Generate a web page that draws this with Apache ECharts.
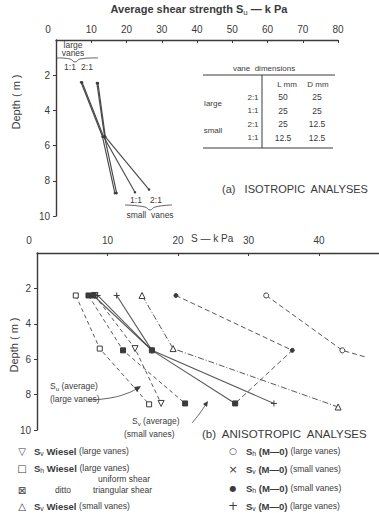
<!DOCTYPE html>
<html>
<head>
<meta charset="utf-8">
<script src="https://cdn.jsdelivr.net/npm/echarts@6/dist/echarts.min.js"></script>
<style>
  html, body { margin: 0; background: #fff; }
  #chart { width: 379px; height: 513px; }
</style>
</head>
<body>
<div id="chart"></div>
<script>
// ---- data: [S (kPa), depth (m)] ----
const depthTicks = [2, 4, 6, 8, 10];
const isoTicks = [0, 10, 20, 30, 40, 50, 60, 70, 80];
const anisoTicks = [0, 10, 20, 30, 40];

// (a) isotropic analyses
const isoLarge11 = [[7.1, 2.4], [13.2, 5.5], [16.7, 8.7]];
const isoLarge21 = [[11.6, 2.45], [13.8, 5.5], [17.2, 8.7]];
const isoSmall11 = [[7.4, 2.4], [13.5, 5.5], [22.4, 8.65]];
const isoSmall21 = [[11.9, 2.45], [14.0, 5.5], [26.4, 8.5]];

// (b) anisotropic analyses
const svWieselLarge = [[8.2, 2.4], [13.9, 5.4], [17.6, 8.5]];
const shWieselUniform = [[5.5, 2.4], [8.9, 5.4], [15.9, 8.55]];
const shWieselTriangular = [[7.3, 2.4], [12.2, 5.5], [21.0, 8.5]];
const svWieselSmall = [[14.9, 2.4], [19.3, 5.4], [42.7, 8.7]];
const shMoLarge = [[32.5, 2.4], [43.3, 5.5], [46.8, 5.9]];
const shMoSmall = [[19.7, 2.4], [36.2, 5.5], [28.1, 8.5]];
const svMoLarge = [[11.3, 2.4], [16.3, 5.5]];
const suAvgLarge = [[8.0, 2.4], [16.3, 5.5], [28.1, 8.5]];
const suAvgSmall = [[8.6, 2.4], [16.3, 5.5], [33.6, 8.5]];

// vane dimensions table
const tableRows = [
  ["2:1", "50", "25"],
  ["1:1", "25", "25"],
  ["2:1", "25", "12.5"],
  ["1:1", "12.5", "12.5"],
];

const ink = "#3b3b3b";
const font = "Liberation Sans";
const plusPath = "path://M5,0L5,10M0,5L10,5";

let myChart = echarts.init(document.getElementById("chart"), null, { renderer: "svg" });

// text helper, sub-scripts through rich text
const subRich = (size) => ({
  sub: { fontSize: size * 0.72, fontFamily: font, fill: ink, padding: [size * 0.55, 0, 0, 0] },
  b: { fontSize: size, fontFamily: font, fill: ink, fontWeight: "bold" },
  n: { fontSize: size * 0.9, fontFamily: font, fill: ink },
});
const txt = (x, y, text, size, extra, rotation) => ({
  type: "text",
  x: x,
  y: y,
  rotation: rotation || 0,
  silent: true,
  style: Object.assign(
    {
      text: text,
      fontSize: size,
      fontFamily: font,
      fill: ink,
      align: "left",
      verticalAlign: "middle",
      rich: subRich(size),
    },
    extra || {}
  ),
});
const seg = (x1, y1, x2, y2, w) => ({
  type: "line",
  silent: true,
  shape: { x1, y1, x2, y2 },
  style: { stroke: ink, lineWidth: w || 1 },
});
const curve = (points, w) => ({
  type: "polyline",
  silent: true,
  shape: { points: points, smooth: 0.5 },
  style: { stroke: ink, lineWidth: w || 0.8, fill: null },
});
const head = (points) => ({
  type: "polygon",
  silent: true,
  shape: { points: points },
  style: { fill: ink },
});

const axisX = (gridIndex, max, ticks, margin) => ({
  type: "value",
  gridIndex: gridIndex,
  position: "top",
  min: 0,
  max: max,
  splitLine: { show: false },
  axisLine: { show: true, lineStyle: { color: ink, width: 1.4 } },
  axisTick: { show: true, inside: true, length: 3, customValues: ticks, lineStyle: { color: ink } },
  axisLabel: {
    customValues: ticks,
    margin: margin,
    color: ink,
    fontSize: 10,
    fontFamily: font,
    formatter: (v) => (v === 0 ? "{z|0}" : String(v)),
    rich: { z: { fontSize: 10, fontFamily: font, color: ink, padding: [0, 16, 0, 0] } },
  },
});
const axisY = (gridIndex) => ({
  type: "value",
  gridIndex: gridIndex,
  inverse: true,
  min: 0,
  max: 10,
  splitLine: { show: false },
  axisLine: { show: true, lineStyle: { color: ink, width: 1.4 } },
  axisTick: { show: true, length: 3, customValues: depthTicks, lineStyle: { color: ink } },
  axisLabel: { customValues: depthTicks, margin: 6, color: ink, fontSize: 10, fontFamily: font },
});

const isoLine = (data) => ({
  type: "line",
  xAxisIndex: 0,
  yAxisIndex: 0,
  data: data,
  symbol: "circle",
  symbolSize: 2.5,
  itemStyle: { color: ink },
  lineStyle: { color: ink, width: 1.2, opacity: 0.9 },
  animation: false,
});
const anLine = (data, symbol, filled, dash, size, rotate) => ({
  type: "line",
  xAxisIndex: 1,
  yAxisIndex: 1,
  data: data,
  symbol: symbol,
  symbolSize: size || 5,
  symbolRotate: rotate || 0,
  itemStyle: filled
    ? { color: ink, borderColor: ink, borderWidth: 1 }
    : { color: "#fff", borderColor: ink, borderWidth: 1 },
  lineStyle: { color: ink, width: dash === "solid" ? 1.1 : 1, type: dash, opacity: 0.85 },
  animation: false,
});

const graphics = [
  // (a) titles and annotations
  txt(199, 9, "{b|Average shear strength S}{sub|u}{b| — k Pa}", 11, { align: "center" }),
  txt(16, 102, "Depth ( m )", 11, { align: "center" }, Math.PI / 2),
  txt(73, 49, "large\nvanes", 8.5, { align: "center", lineHeight: 8.5 }),
  curve([[57, 58], [70, 59], [75, 62], [80, 59], [98, 58]]),
  txt(70, 67, "1:1", 8.5, { align: "center" }),
  txt(87, 67, "2:1", 8.5, { align: "center" }),
  txt(136, 200, "1:1", 8.5, { align: "center" }),
  txt(156, 200, "2:1", 8.5, { align: "center" }),
  curve([[125, 205], [145, 207], [150, 210], [155, 207], [172, 205]]),
  txt(150, 215, "small  vanes", 8.5, { align: "center" }),
  // vane dimensions table
  txt(264, 68, "vane  dimensions", 8, { align: "center" }),
  seg(203, 75, 335, 75, 1),
  seg(262, 75, 262, 148, 1),
  seg(203, 148, 333, 148, 1),
  txt(287, 84, "L mm", 8, { align: "center" }),
  txt(318, 84, "D mm", 8, { align: "center" }),
  txt(213, 103, "large", 8, { align: "center" }),
  txt(213, 130, "small", 8, { align: "center" }),
  txt(222, 189, "(a)   ISOTROPIC  ANALYSES", 11),
  // (b) titles and annotations
  txt(191, 238, "S — k Pa", 10),
  txt(14, 345, "Depth ( m )", 11, { align: "center" }, Math.PI / 2),
  txt(50, 386, "S{sub|u} (average)", 8.5),
  txt(50, 399, "(large vanes)", 8.5),
  curve([[88, 400], [110, 398], [128, 393], [138, 388]]),
  head([[141, 386], [134, 387], [137, 392]]),
  txt(132, 421, "S{sub|v} (average)", 8.5),
  txt(124, 434, "(small vanes)", 8.5),
  curve([[192, 423], [200, 413], [206, 404]]),
  head([[208, 401], [203, 404], [207, 407]]),
  txt(202, 434, "(b)  ANISOTROPIC  ANALYSES", 11.5),
  // legend, left column
  txt(22, 451, "▽", 10, { align: "center", fontFamily: "DejaVu Sans" }),
  txt(34, 451, "{b|S}{sub|v} {b|Wiesel} {n|(large vanes)}", 9.5),
  txt(22, 468, "□", 10, { align: "center", fontFamily: "DejaVu Sans" }),
  txt(34, 468, "{b|S}{sub|h} {b|Wiesel} {n|(large vanes)}", 9.5),
  txt(98, 479, "uniform shear", 8.5),
  txt(22, 490, "⊠", 10, { align: "center", fontFamily: "DejaVu Sans" }),
  txt(55, 490, "ditto", 8.5),
  txt(93, 490, "triangular shear", 8.5),
  txt(22, 506, "△", 10, { align: "center", fontFamily: "DejaVu Sans" }),
  txt(34, 506, "{b|S}{sub|v} {b|Wiesel} {n|(small vanes)}", 9.5),
  // legend, right column
  txt(233, 451, "○", 9, { align: "center", fontFamily: "DejaVu Sans" }),
  txt(246, 451, "{b|S}{sub|h} {b|(M—0)} {n|(large vanes)}", 9.5),
  txt(233, 469, "×", 11, { align: "center", fontFamily: "DejaVu Sans" }),
  txt(246, 469, "{b|S}{sub|v} {b|(M—0)} {n|(small vanes)}", 9.5),
  txt(233, 488, "●", 8, { align: "center", fontFamily: "DejaVu Sans" }),
  txt(246, 488, "{b|S}{sub|h} {b|(M—0)} {n|(small vanes)}", 9.5),
  txt(233, 506, "+", 12, { align: "center", fontFamily: "DejaVu Sans" }),
  txt(246, 506, "{b|S}{sub|v} {b|(M—0)} {n|(large vanes)}", 9.5),
];

tableRows.forEach((row, i) => {
  const y = 97 + i * 13.5;
  graphics.push(txt(253, y, row[0], 8, { align: "center" }));
  graphics.push(txt(283, y, row[1], 8.5, { align: "center" }));
  graphics.push(txt(317, y, row[2], 8.5, { align: "center" }));
});

// the (M-0) large-vane line runs on past its last marker
const shMoLargeSeries = anLine(shMoLarge, "circle", false, [5, 3], 5);
shMoLargeSeries.data = shMoLarge.map((p, i) =>
  i === shMoLarge.length - 1 ? { value: p, symbol: "none" } : p
);

const options = {
  backgroundColor: "#fff",
  animation: false,
  grid: [
    { left: 56, top: 40, width: 282, height: 176 },
    { left: 37, top: 253, width: 342, height: 177 },
  ],
  xAxis: [axisX(0, 80, isoTicks, 6), axisX(1, 48.5, anisoTicks, 8)],
  yAxis: [axisY(0), axisY(1)],
  series: [
    isoLine(isoLarge11),
    isoLine(isoLarge21),
    isoLine(isoSmall11),
    isoLine(isoSmall21),
    anLine(svWieselLarge, "triangle", false, [4, 3], 6, 180),
    anLine(shWieselUniform, "rect", false, [4, 3], 5),
    anLine(shWieselTriangular, "rect", true, [4, 3], 5),
    anLine(svWieselSmall, "triangle", false, [6, 2, 1, 2], 6),
    shMoLargeSeries,
    anLine(shMoSmall, "circle", true, [5, 3], 4),
    anLine(svMoLarge, plusPath, false, "solid", 6),
    anLine(suAvgLarge, "rect", true, "solid", 5),
    anLine(suAvgSmall, plusPath, false, "solid", 6),
  ],
  graphic: graphics,
};

myChart.setOption(options);
</script>
</body>
</html>
